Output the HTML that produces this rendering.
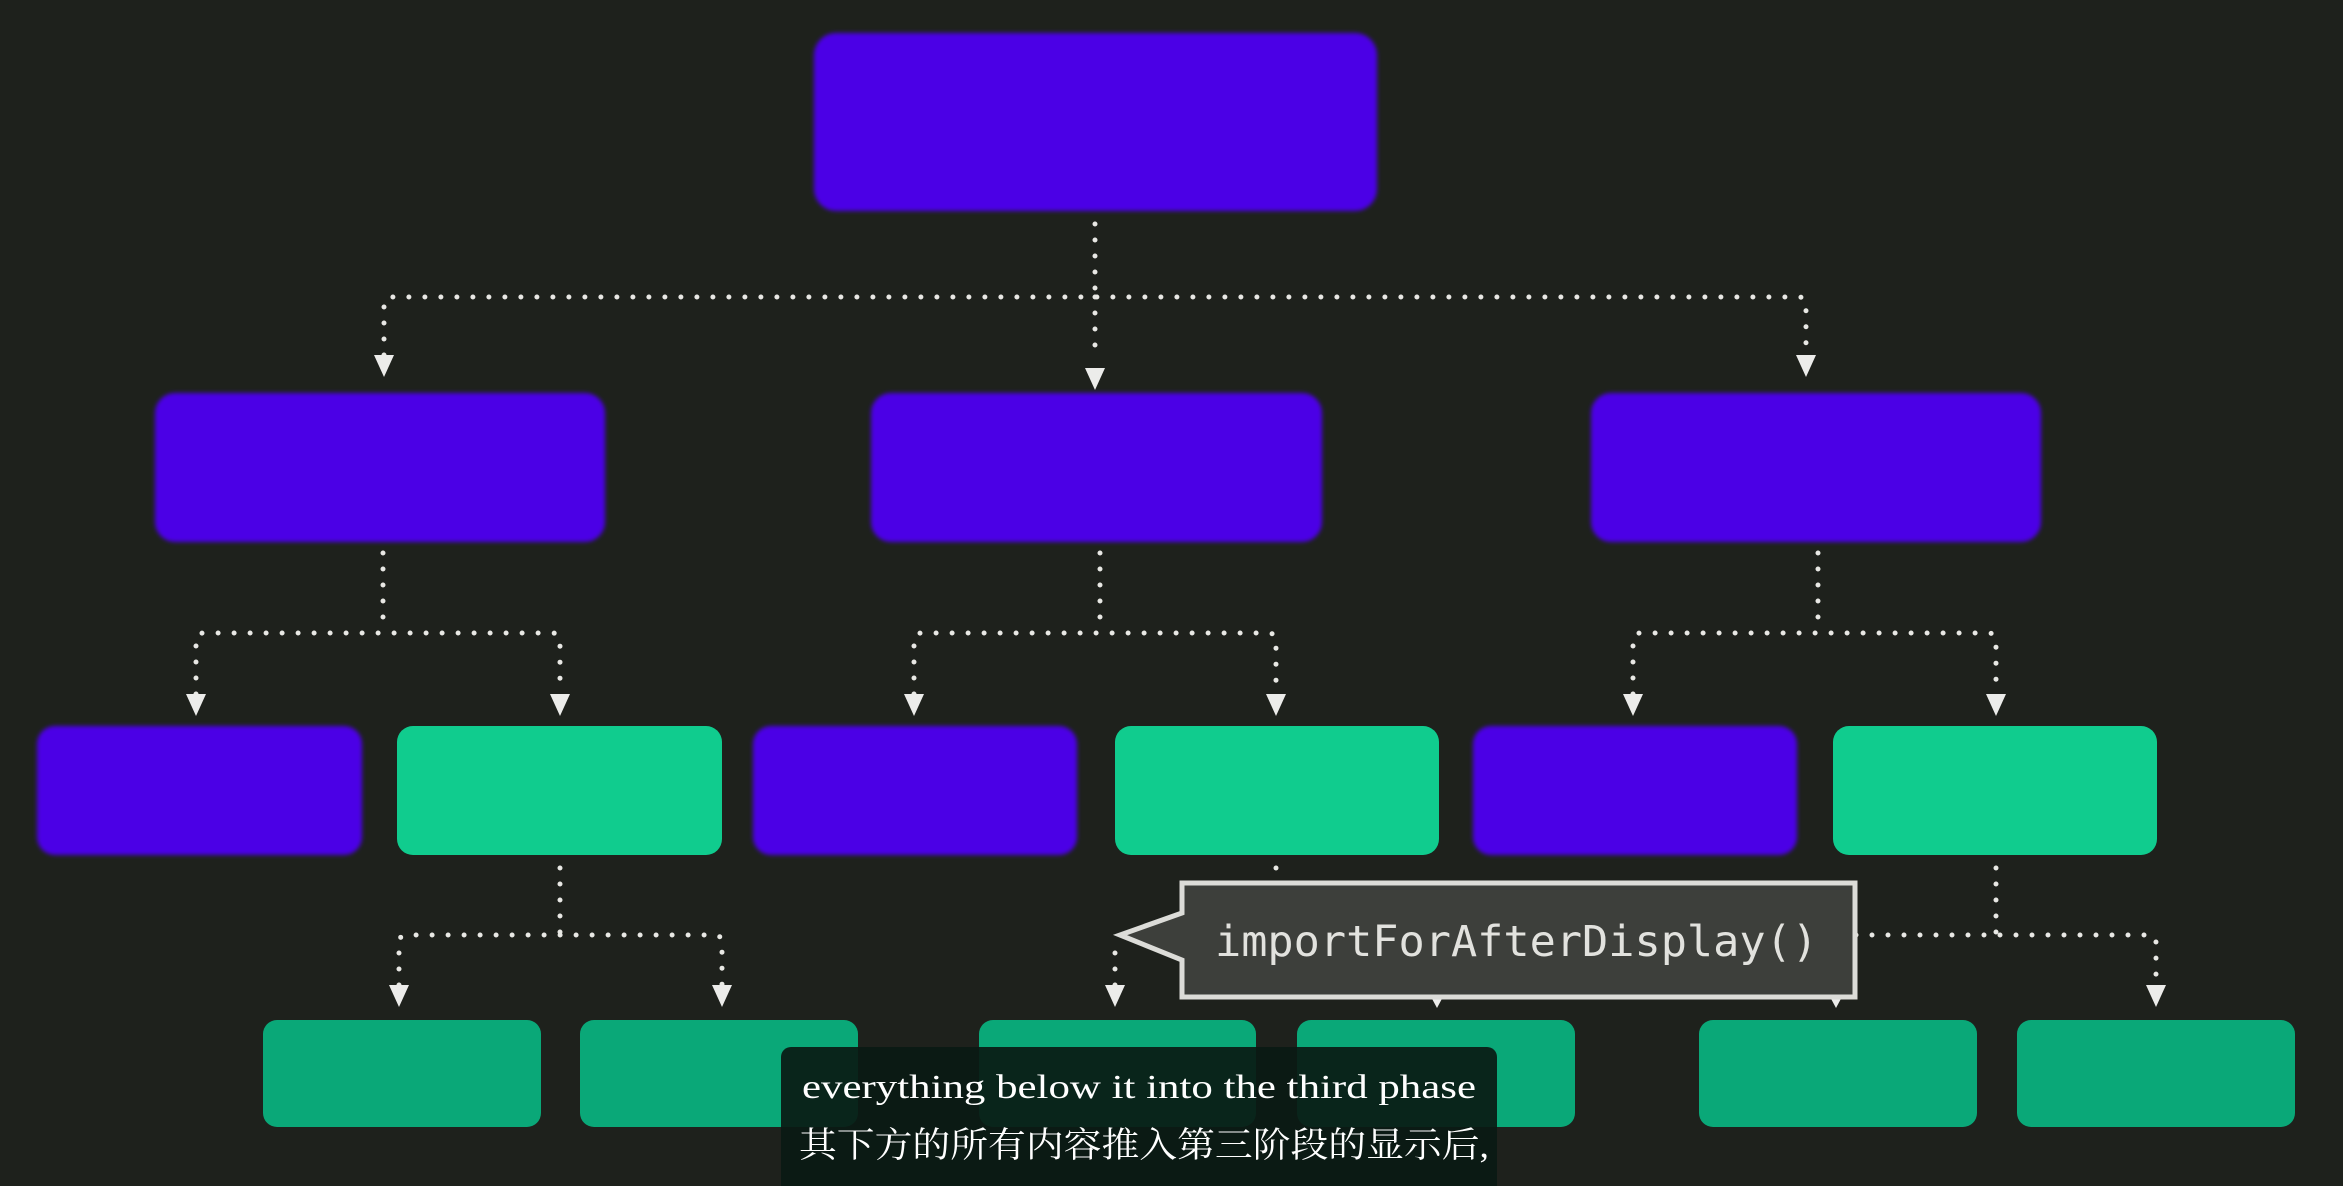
<!DOCTYPE html>
<html><head><meta charset="utf-8"><style>
html,body{margin:0;padding:0;background:#1e211c;}
svg{display:block}
</style></head><body>
<svg width="2343" height="1186" viewBox="0 0 2343 1186" xmlns="http://www.w3.org/2000/svg">
<defs>
<filter id="g" x="-10%" y="-10%" width="120%" height="120%"><feGaussianBlur stdDeviation="2"/></filter>
</defs>
<rect width="2343" height="1186" fill="#1e211c"/>
<g stroke="#e8e8e4" stroke-width="5" stroke-linecap="round" stroke-dasharray="0 16" fill="none">
<path d="M1095 224 V297"/>
<path d="M384 355 V304 Q384 297 392 297 H1798 Q1806 297 1806 304 V355"/>
<path d="M1095 297 V355"/>
<path d="M383 553 V633"/><path d="M1100 553 V633"/><path d="M1818 553 V633"/>
<path d="M196 694 V641 Q196 633 204 633 H552 Q560 633 560 641 V694"/>
<path d="M914 694 V641 Q914 633 922 633 H1268 Q1276 633 1276 641 V694"/>
<path d="M1633 694 V641 Q1633 633 1641 633 H1988 Q1996 633 1996 641 V694"/>
<path d="M560 868 V935"/><path d="M1276 868 V880"/><path d="M1996 868 V935"/>
<path d="M399 985 V943 Q399 935 407 935 H714 Q722 935 722 943 V985"/>
<path d="M1115 985 V945"/>
<path d="M1856 935 H2148 Q2156 935 2156 943 V985"/>
</g>
<g fill="#ececea">
<polygon points="374,355 394,355 384,377"/>
<polygon points="1085,368 1105,368 1095,390"/>
<polygon points="1796,355 1816,355 1806,377"/>
<polygon points="186,694 206,694 196,716"/>
<polygon points="550,694 570,694 560,716"/>
<polygon points="904,694 924,694 914,716"/>
<polygon points="1266,694 1286,694 1276,716"/>
<polygon points="1623,694 1643,694 1633,716"/>
<polygon points="1986,694 2006,694 1996,716"/>
<polygon points="389,985 409,985 399,1007"/>
<polygon points="712,985 732,985 722,1007"/>
<polygon points="1105,985 1125,985 1115,1007"/>
<polygon points="1430,995 1444,995 1437,1008"/>
<polygon points="1829,995 1843,995 1836,1008"/>
<polygon points="2146,985 2166,985 2156,1007"/>
</g>
<g fill="#4b00e6" filter="url(#g)">
<rect x="814" y="33" width="563" height="178" rx="22"/>
<rect x="155" y="393" width="450" height="149" rx="20"/>
<rect x="871" y="393" width="451" height="149" rx="20"/>
<rect x="1591" y="393" width="450" height="149" rx="20"/>
<rect x="37" y="726" width="325" height="129" rx="18"/>
<rect x="753" y="726" width="324" height="129" rx="18"/>
<rect x="1473" y="726" width="324" height="129" rx="18"/>
</g>
<g fill="#10cc8e">
<rect x="397" y="726" width="325" height="129" rx="16"/>
<rect x="1115" y="726" width="324" height="129" rx="16"/>
<rect x="1833" y="726" width="324" height="129" rx="16"/>
</g>
<g fill="#0aa878">
<rect x="263" y="1020" width="278" height="107" rx="14"/>
<rect x="580" y="1020" width="278" height="107" rx="14"/>
<rect x="979" y="1020" width="277" height="107" rx="14"/>
<rect x="1297" y="1020" width="278" height="107" rx="14"/>
<rect x="1699" y="1020" width="278" height="107" rx="14"/>
<rect x="2017" y="1020" width="278" height="107" rx="14"/>
</g>
<path d="M1182 883 H1855 V997 H1182 V960 L1120 935 L1182 913 Z" fill="#3d3f3b" stroke="#dcdcd8" stroke-width="5" stroke-linejoin="miter"/>
<text x="1215" y="956" font-family="'DejaVu Sans Mono','Liberation Mono',monospace" font-size="43" fill="#e2e2de" textLength="603" lengthAdjust="spacingAndGlyphs">importForAfterDisplay()</text>
<rect x="781" y="1047" width="716" height="150" rx="10" fill="#0a1a14" fill-opacity="0.92"/>
<text x="802" y="1098" font-family="'Liberation Serif','Noto Serif CJK SC',serif" font-size="34" fill="#ffffff" textLength="674" lengthAdjust="spacingAndGlyphs">everything below it into the third phase</text>
<text x="799" y="1157" font-family="'Liberation Serif','Noto Serif CJK SC',serif" font-size="35" fill="#ffffff" textLength="690" lengthAdjust="spacingAndGlyphs">其下方的所有内容推入第三阶段的显示后,</text>
</svg>
</body></html>
